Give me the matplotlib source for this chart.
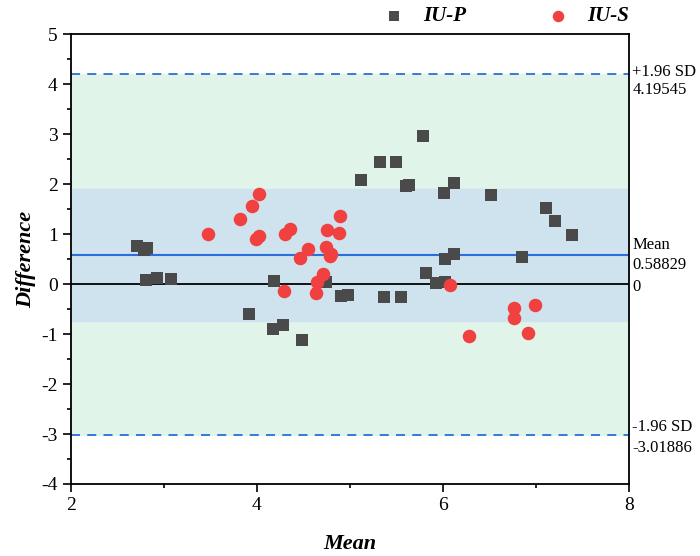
import numpy as np
import matplotlib.pyplot as plt
from matplotlib.ticker import MultipleLocator

plt.rcParams['font.family'] = ['Liberation Serif', 'DejaVu Serif']
plt.rcParams['axes.unicode_minus'] = False

# IU-P (squares)
p_mean = [2.71, 2.78, 2.82, 2.81, 2.92, 3.08, 3.91, 4.17, 4.18, 4.28, 4.48, 4.74,
          4.90, 4.98, 5.12, 5.32, 5.37, 5.49, 5.55, 5.60, 5.63, 5.78, 5.82, 5.92,
          6.01, 6.02, 6.02, 6.12, 6.12, 6.52, 6.85, 7.11, 7.20, 7.39]
p_diff = [0.76, 0.69, 0.72, 0.09, 0.13, 0.11, -0.59, -0.90, 0.07, -0.81, -1.11, 0.04,
          -0.23, -0.21, 2.09, 2.45, -0.25, 2.45, -0.25, 1.97, 1.99, 2.97, 0.23, 0.03,
          1.83, 0.50, 0.05, 2.03, 0.61, 1.79, 0.55, 1.53, 1.27, 0.99]

# IU-S (circles)
s_mean = [3.47, 3.82, 3.95, 4.02, 3.99, 4.02, 4.29, 4.30, 4.35, 4.46, 4.55, 4.63, 4.64,
          4.71, 4.74, 4.75, 4.79, 4.80, 4.88, 4.89, 6.07, 6.28, 6.76, 6.76, 6.91, 6.99]
s_diff = [1.01, 1.31, 1.57, 1.80, 0.91, 0.97, -0.13, 1.00, 1.10, 0.52, 0.70, -0.18, 0.04,
          0.20, 0.75, 1.09, 0.57, 0.60, 1.03, 1.37, -0.02, -1.03, -0.47, -0.67, -0.98, -0.41]

mean_diff = 0.58829
upper = 4.19545
lower = -3.01886
band_hi, band_lo = 1.90, -0.74

fig = plt.figure(figsize=(7, 5.56), dpi=100)
ax = fig.add_axes([0.1014, 0.1295, 0.7972, 0.8093])

ax.axhspan(lower, upper, color='#e0f4e9', zorder=0)
ax.axhspan(band_lo, band_hi, color='#cfe3ee', zorder=0)
ax.axhline(upper, color='#2a6fdb', ls=(0, (5, 4)), lw=1.3, zorder=1)
ax.axhline(lower, color='#2a6fdb', ls=(0, (5, 4)), lw=1.3, zorder=1)
ax.axhline(mean_diff, color='#2a6fdb', lw=1.5, zorder=1)
ax.axhline(0, color='black', lw=1.3, zorder=1)

ax.scatter(p_mean, p_diff, marker='s', s=70, color='#4a4a4a', lw=0, zorder=3, label='IU-P')
ax.scatter(s_mean, s_diff, marker='o', s=95, color='#f04040', lw=0, zorder=3, label='IU-S')

ax.set_xlim(2, 8)
ax.set_ylim(-4, 5)
ax.xaxis.set_major_locator(MultipleLocator(2))
ax.xaxis.set_minor_locator(MultipleLocator(1))
ax.yaxis.set_major_locator(MultipleLocator(1))
ax.yaxis.set_minor_locator(MultipleLocator(0.5))
ax.tick_params(which='major', length=6, width=1.2, labelsize=14, direction='out')
ax.tick_params(which='minor', length=3, width=1.2, direction='out')
for sp in ax.spines.values():
    sp.set_linewidth(1.3)

ax.set_xlabel('Mean', fontsize=16, fontweight='bold', style='italic', labelpad=14)
ax.set_ylabel('Difference', fontsize=16, fontweight='bold', style='italic', labelpad=4)

# labels on right side
tr = ax.get_yaxis_transform()
kw = dict(transform=tr, fontsize=12, ha='left', va='center', clip_on=False)
ax.text(1.006, upper + 0.05, '+1.96 SD', **kw)
ax.text(1.006, upper - 0.31, '4.19545', **kw)
ax.text(1.006, mean_diff + 0.2, 'Mean', **kw)
ax.text(1.006, mean_diff - 0.2, '0.58829', **kw)
ax.text(1.006, -0.06, '0', **kw)
ax.text(1.006, lower + 0.16, '-1.96 SD', **kw)
ax.text(1.006, lower - 0.26, '-3.01886', **kw)

fig.legend(*ax.get_legend_handles_labels(), loc='center',
           bbox_to_anchor=(506 / 700, 1 - 16 / 556), ncol=2, frameon=False,
           prop={'size': 15, 'weight': 'bold', 'style': 'italic'},
           handlelength=1.0, columnspacing=3.9, handletextpad=0.9,
           borderpad=0, borderaxespad=0, markerscale=0.85)

fig.savefig('out.png', dpi=100)
